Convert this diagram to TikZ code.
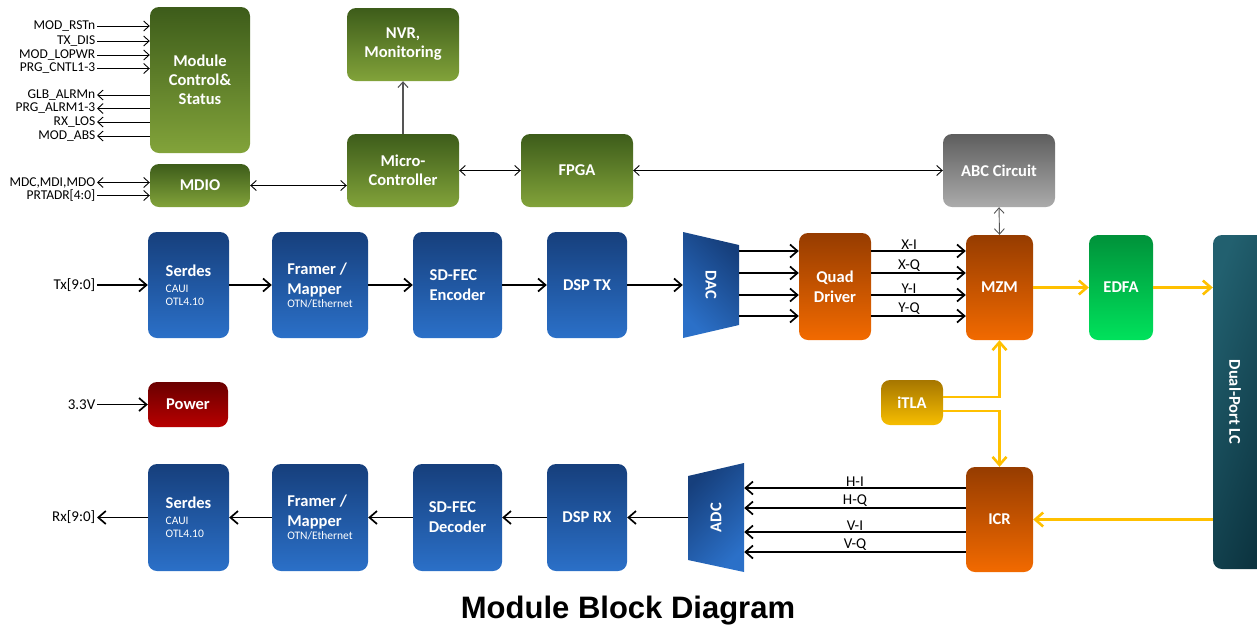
\documentclass[tikz,border=0pt]{standalone}
\usepackage{fontspec}
\setmainfont{Carlito}
\newfontfamily\titlefont{Liberation Sans}
\usetikzlibrary{arrows.meta,calc}
\newcommand\boxfont{\fontsize{16.5}{19}\selectfont\bfseries}
\newcommand\boxsmall{\fontsize{11.5}{13}\selectfont\mdseries}
\definecolor{gA}{HTML}{3D5C1A}\definecolor{gB}{HTML}{82A33A}
\definecolor{bA}{HTML}{163F7C}\definecolor{bB}{HTML}{2B70C8}
\definecolor{oA}{HTML}{963C00}\definecolor{oB}{HTML}{F26A00}
\definecolor{eA}{HTML}{00923A}\definecolor{eB}{HTML}{00E25C}
\definecolor{kA}{HTML}{5E5E5E}\definecolor{kB}{HTML}{ABABAB}
\definecolor{pA}{HTML}{6A0000}\definecolor{pB}{HTML}{B80000}
\definecolor{tA}{HTML}{A67600}\definecolor{tB}{HTML}{F7BE00}
\definecolor{lA}{HTML}{22606F}\definecolor{lB}{HTML}{0C3440}
\definecolor{yel}{HTML}{FFC000}
\definecolor{gry}{HTML}{555555}
\tikzset{
  box/.style={rounded corners=9pt, text=white, font=\boxfont, align=center, inner sep=0pt, shading angle=45},
  greenbox/.style={box, top color=gA, bottom color=gB},
  bluebox/.style={box, top color=bA, bottom color=bB, align=left},
  orangebox/.style={box, top color=oA, bottom color=oB},
  sz/.style 2 args={minimum width=#1, minimum height=#2},
  sig/.style={font=\fontsize{13.5}{15}\selectfont, inner sep=1.5pt, anchor=east},
  io/.style={font=\fontsize{15}{17}\selectfont, inner sep=1.5pt, anchor=east},
  lbl/.style={font=\fontsize{15}{16}\selectfont, inner sep=0.5pt, above},
  thinarr/.style={line width=0.9pt, -{Straight Barb[length=5.5pt,width=10pt]}},
  thinboth/.style={line width=0.9pt, {Straight Barb[length=5.5pt,width=10pt]}-{Straight Barb[length=5.5pt,width=10pt]}},
  datarr/.style={line width=1.7pt, -{Straight Barb[length=7.5pt,width=13pt]}},
  yelarr/.style={yel, line width=2.6pt, -{Straight Barb[length=8pt,width=14pt]}},
}
\begin{document}
\begin{tikzpicture}[x=1pt,y=-1pt]
\useasboundingbox (0,0) rectangle (1257,625);
% top control section
\node[greenbox, sz={100}{146}] (mcs) at (200,80) {Module\\Control\&\\Status};
\node[greenbox, sz={100}{43}] (mdio) at (200,185.5) {MDIO};
\node[greenbox, sz={112}{73}] (nvr) at (403,44.5) {NVR,\\Monitoring};
\node[greenbox, sz={112}{73}] (mcu) at (403,170.5) {Micro-\\Controller};
\node[greenbox, sz={112}{73}] (fpga) at (577,170.5) {FPGA};
\node[box, top color=kA, bottom color=kB, sz={112}{73}] (abc) at (999,170.5) {ABC Circuit};
% Tx row
\node[bluebox, sz={81}{106}] (sertx) at (188.5,285) {Serdes\\[-3pt]{\boxsmall CAUI}\\[-6pt]{\boxsmall OTL4.10}};
\node[bluebox, sz={96}{106}] (frmtx) at (320,285) {Framer /\\[1pt]Mapper\\[-6pt]{\boxsmall OTN/Ethernet}};
\node[bluebox, sz={89}{106}] (fectx) at (457.5,285) {SD-FEC\\[1pt]Encoder};
\node[bluebox, sz={80}{106}, align=center] (dsptx) at (587,285) {DSP TX};
\shade[top color=bA, bottom color=bB, shading angle=-45] (683,232) -- (739,245) -- (739,325) -- (683,338) -- cycle;
\node[sz={56}{106}, inner sep=0pt] (dac) at (711,285) {};
\node[rotate=-90, text=white, font=\boxfont] (daclbl) at (dac.center) {DAC};
\node[orangebox, sz={72}{107}] (quad) at (835,286.5) {Quad\\[1pt]Driver};
\node[orangebox, sz={67}{105}] (mzm) at (999.5,287.5) {MZM};
\node[box, top color=eA, bottom color=eB, sz={64}{105}] (edfa) at (1121,287.5) {EDFA};
\node[box, top color=lA, bottom color=lB, shading angle=70, sz={57}{334}] (lc) at (1241.5,402) {};
\node[rotate=-90, text=white, font=\boxfont] (lclbl) at (1235,402) {Dual-Port LC};
% middle
\node[box, top color=pA, bottom color=pB, sz={80}{45}] (pwr) at (188,404.5) {Power};
\node[box, top color=tA, bottom color=tB, sz={62}{45}] (itla) at (912,402.5) {iTLA};
% Rx row
\node[bluebox, sz={81}{107}] (serrx) at (188.5,517.5) {Serdes\\[-3pt]{\boxsmall CAUI}\\[-6pt]{\boxsmall OTL4.10}};
\node[bluebox, sz={96}{107}] (frmrx) at (320,517.5) {Framer /\\[1pt]Mapper\\[-6pt]{\boxsmall OTN/Ethernet}};
\node[bluebox, sz={89}{107}] (fecrx) at (457.5,517.5) {SD-FEC\\[1pt]Decoder};
\node[bluebox, sz={80}{107}, align=center] (dsprx) at (587,517.5) {DSP RX};
\shade[top color=bA, bottom color=bB, shading angle=45] (688,476) -- (744,463) -- (744,572) -- (688,560) -- cycle;
\node[sz={56}{109}, inner sep=0pt] (adc) at (716,517.5) {};
\node[rotate=90, text=white, font=\boxfont] (adclbl) at (adc.center) {ADC};
\node[orangebox, sz={67}{105}] (icr) at (999.5,519.5) {ICR};
% title
\node[font=\titlefont\bfseries\fontsize{31}{36}\selectfont, anchor=base] (title) at (628,618) {Module Block Diagram};
% left signals
\node[sig] (s1) at (97,26) {MOD\_RSTn};
\node[sig] (s2) at (97,41) {TX\_DIS};
\node[sig] (s3) at (97,55) {MOD\_LOPWR};
\node[sig] (s4) at (97,68.5) {PRG\_CNTL1-3};
\node[sig] (s5) at (97,95) {GLB\_ALRMn};
\node[sig] (s6) at (97,108.5) {PRG\_ALRM1-3};
\node[sig] (s7) at (97,122) {RX\_LOS};
\node[sig] (s8) at (97,136) {MOD\_ABS};
\node[sig] (s9) at (97,182.5) {MDC,MDI,MDO};
\node[sig] (s10) at (97,195.5) {PRTADR[4:0]};
\foreach \s in {s1,s2,s3,s4,s10}{\draw[thinarr] (\s.east) -- (mcs.west |- \s.east);}
\foreach \s in {s5,s6,s7,s8}{\draw[thinarr] (mcs.west |- \s.east) -- (\s.east);}
\draw[thinboth] (s9.east) -- (mcs.west |- s9.east);
% control connectors
\draw[thinboth] (mdio.east) -- (mcu.west |- mdio.east);
\draw[gry, line width=1.1pt, -{Straight Barb[length=5.5pt,width=10pt]}] (mcu.north) -- (nvr.south);
\draw[thinboth] (mcu.east) -- (fpga.west);
\draw[thinboth] (fpga.east) -- (abc.west);
\draw[thinboth, gry] (abc.south) -- (mzm.north);
% io
\node[io] (tx) at (97,285) {Tx[9:0]};
\node[io] (v33) at (97,404.5) {3.3V};
\node[io] (rx) at (97,517.5) {Rx[9:0]};
\draw[datarr] (tx.east) -- (sertx.west);
\draw[datarr] (v33.east) -- (pwr.west);
\draw[datarr] (serrx.west) -- (rx.east);
% Tx path
\draw[datarr] (sertx.east) -- (frmtx.west);
\draw[datarr] (frmtx.east) -- (fectx.west);
\draw[datarr] (fectx.east) -- (dsptx.west);
\draw[datarr] (dsptx.east) -- (dac.west);
\coordinate (r1) at (0,251);\coordinate (r2) at (0,273);
\coordinate (r3) at (0,295);\coordinate (r4) at (0,316);
\foreach \r in {r1,r2,r3,r4}{\draw[datarr] (dac.east |- \r) -- (quad.west |- \r);}
\draw[datarr] (quad.east |- r1) -- node[lbl, pos=0.4]{X-I} (mzm.west |- r1);
\draw[datarr] (quad.east |- r2) -- node[lbl, pos=0.4]{X-Q} (mzm.west |- r2);
\draw[datarr] (quad.east |- r3) -- node[lbl, pos=0.4]{Y-I} (mzm.west |- r3);
\draw[datarr] (quad.east |- r4) -- node[lbl, pos=0.4]{Y-Q} (mzm.west |- r4);
% Rx path
\coordinate (h1) at (0,488);\coordinate (h2) at (0,508);
\coordinate (h3) at (0,532);\coordinate (h4) at (0,552);
\draw[datarr] (icr.west |- h1) -- node[lbl]{H-I} (adc.east |- h1);
\draw[datarr] (icr.west |- h2) -- node[lbl]{H-Q} (adc.east |- h2);
\draw[datarr] (icr.west |- h3) -- node[lbl]{V-I} (adc.east |- h3);
\draw[datarr] (icr.west |- h4) -- node[lbl]{V-Q} (adc.east |- h4);
\draw[datarr] (adc.west) -- (dsprx.east);
\draw[datarr] (dsprx.west) -- (fecrx.east);
\draw[datarr] (fecrx.west) -- (frmrx.east);
\draw[datarr] (frmrx.west) -- (serrx.east);
% optical
\draw[yelarr] (mzm.east) -- (edfa.west);
\draw[yelarr] (edfa.east) -- (lc.west |- edfa.east);
\draw[yelarr] ([yshift=5.5pt]itla.east) -| (mzm.south);
\draw[yelarr] ([yshift=-8.5pt]itla.east) -| (icr.north);
\draw[yelarr] (lc.west |- icr.east) -- (icr.east);
\end{tikzpicture}
\end{document}
